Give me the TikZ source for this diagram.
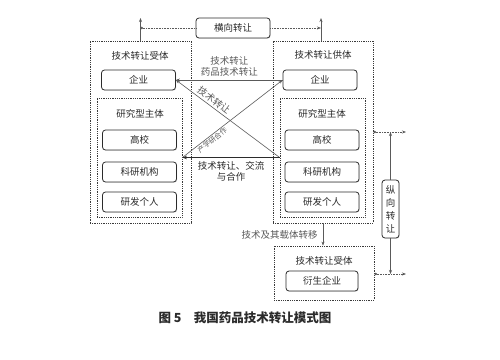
\documentclass[tikz,border=0pt]{standalone}
\usepackage{fontspec}
\setmainfont{Noto Sans CJK SC}
\usepackage{xcolor}
\usepackage{tikz}
\usetikzlibrary{arrows.meta, positioning, shadows, calc}
\definecolor{figink}{HTML}{2B2B2B}
\definecolor{figline}{HTML}{5A5A5A}
\definecolor{figdot}{HTML}{3A3A3A}

\begin{document}
\begin{tikzpicture}[
    x=1pt, y=-1pt,
    font=\fontsize{9.5}{11}\selectfont, text=figink,
    group/.style={draw=figdot,densely dotted,thick,minimum width=#1},
    unit/.style={draw=figink,thick,rounded corners=3pt,minimum width=74pt,minimum height=20pt,inner sep=1pt,fill=white,drop shadow={opacity=0.25,shadow xshift=0.7pt,shadow yshift=-0.7pt}},
    tag/.style={inner sep=1pt,align=center},
    arr/.style={-{Stealth[length=4pt,width=3pt]},figline,semithick},
    tie/.style={densely dotted,figline,semithick},
  ]
    \useasboundingbox (0,0) rectangle (500,359);

    \node[group=101pt, minimum height=182pt] (lout) at (140.5,132) {};
    \node[group=85pt, minimum height=119pt] (lin) at (139.5,157.5) {};
    \node[group=100pt, minimum height=182pt] (rout) at (323,132) {};
    \node[group=85pt, minimum height=119pt] (rin) at (322.5,157.5) {};
    \node[group=100pt, minimum height=54pt] (bout) at (324,273) {};

    \node[tag] (lhead) at (140,56) {技术转让受体};
    \node[tag] (lsub) at (140,114) {研究型主体};
    \node[tag] (rhead) at (323,55) {技术转让供体};
    \node[tag] (rsub) at (322,114) {研究型主体};
    \node[tag] (bhead) at (324,261) {技术转让受体};

    \node[unit] (lqy) at (138.5,80) {企业};
    \node[unit] (lgx) at (139.5,140) {高校};
    \node[unit] (lky) at (139.5,172) {科研机构};
    \node[unit] (lgr) at (139.5,202) {研发个人};
    \node[unit] (rqy) at (320,80) {企业};
    \node[unit] (rgx) at (322,140) {高校};
    \node[unit] (rky) at (322,172) {科研机构};
    \node[unit] (rgr) at (322,202) {研发个人};
    \node[unit, minimum width=72pt] (ysqy) at (322,281) {衍生企业};

    \node[unit] (hbox) at (233,28) {横向转让};
    \node[unit, minimum width=17pt, minimum height=58pt, align=center, font=\fontsize{9.5}{13}\selectfont] (vbox) at (390.5,209) {纵\\向\\转\\让};

    \coordinate (htipL) at (140.5,18);
    \coordinate (htipR) at (321,18);
    \coordinate (vtop) at (390.5,132);
    \coordinate (vbot) at (390.5,274);
    \coordinate (vtopR) at (406,132);
    \coordinate (vbotR) at (406,274);

    \draw[arr] (lout.north) -- (htipL);
    \draw[arr] (rout.north -| htipR) -- (htipR);
    \draw[tie, {Circle[length=2.5pt]}-] (hbox.west -| htipL) -- (hbox.west);
    \draw[tie, -{Stealth[length=4pt,width=3pt]}] (hbox.east) -- (hbox.east -| htipR);

    \draw[arr] (rqy.west) -- (lqy.east)
      node[tag, pos=0.5, above=2pt] (tmid) {技术转让\\药品技术转让};
    \draw[arr] (rin.west) -- (lqy.east)
      node[tag, sloped, pos=0.67, above=1pt] (tdiag) {技术转让};
    \draw[arr] (lin.east) -- (rqy.west)
      node[tag, sloped, pos=0.27, below=0pt, font=\fontsize{7}{8}\selectfont] (cxy) {产学研合作};
    \draw[-{Stealth[length=4.5pt,width=3.5pt]}, figink, thick] (rin.west) -- (lin.east)
      node[tag, pos=0.5, below=3pt] (tjl) {技术转让、交流\\与合作};

    \draw[arr] (rout.south) -- (rout.south |- bout.north)
      node[tag, pos=0.5, left=4pt] (tzy) {技术及其载体转移};

    \draw[arr] (vbox.north) -- (vtop);
    \draw[arr] (vbox.south) -- (vbot);
    \draw[tie, {Circle[length=2.5pt]}-{Stealth[length=4pt,width=3pt]}] (vtop -| rout.east) -- (vtopR);
    \draw[tie, {Circle[length=2.5pt]}-{Stealth[length=4pt,width=3pt]}] (vbot -| bout.east) -- (vbotR);

    \node[font=\fontsize{12.5}{14}\selectfont\bfseries] (cap) at (245,318) {图 5\quad 我国药品技术转让模式图};
  \end{tikzpicture}
\end{document}
